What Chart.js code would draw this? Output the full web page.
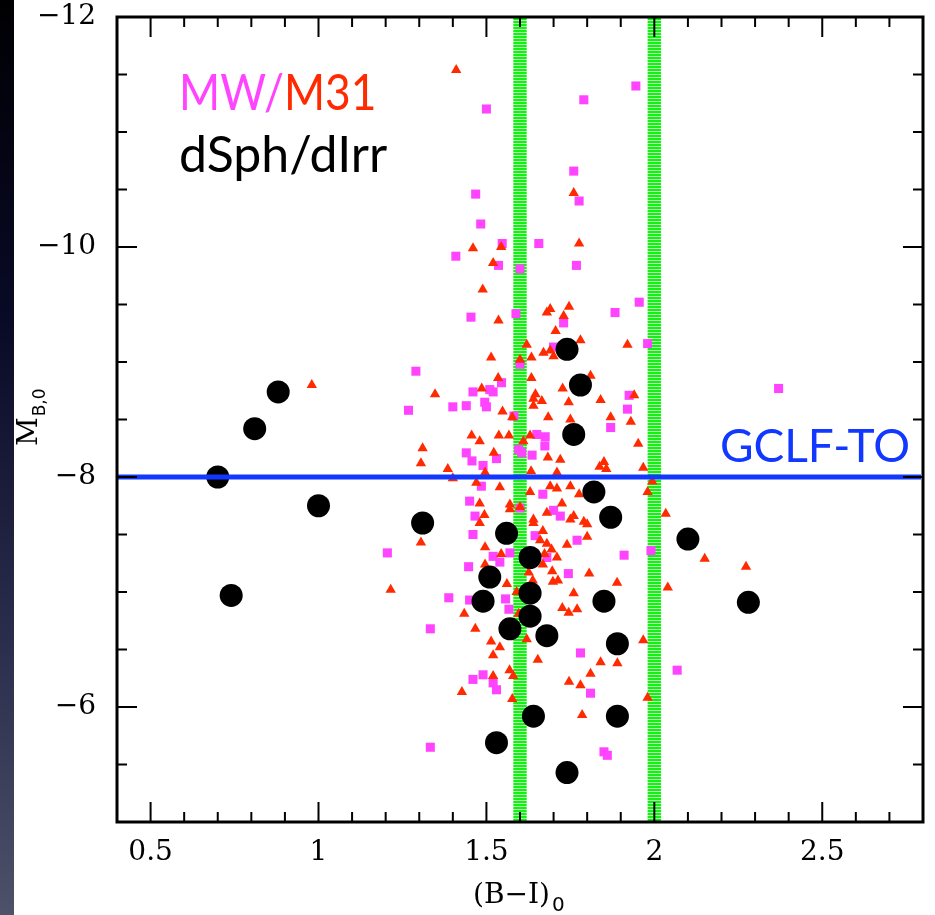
<!DOCTYPE html>
<html lang="en">
<head>
<meta charset="UTF-8">
<title>GC colour - magnitude</title>
<script src="https://cdn.jsdelivr.net/npm/chart.js"></script>
<style>
  html, body { margin: 0; padding: 0; background: #fff; }
  .strip { position: absolute; left: 0; top: 0; width: 14px; height: 915px;
    background: linear-gradient(to bottom, #000003 0%, #090a26 35%, #2a2d4c 70%, #4d5169 100%); }
  .wrap { position: absolute; left: 0; top: 0; width: 935px; height: 915px; }
</style>
</head>
<body>
<div class="strip"></div>
<div class="wrap"><canvas id="cmd" width="935" height="915"></canvas></div>
<script>
// dSph / dIrr clusters (black)
const dwarfBI = [0.70, 0.74, 0.81, 0.88, 1.00, 1.31, 1.56, 1.74, 1.78, 1.76, 1.82, 1.87, 1.63, 1.51,
  1.49, 1.63, 1.63, 1.57, 1.68, 1.85, 1.89, 1.64, 1.89, 1.53, 1.74, 2.10, 2.28];
const dwarfMB = [-8.00, -6.97, -8.42, -8.74, -7.75, -7.60, -7.51, -9.11, -8.80, -8.37, -7.87, -7.65, -7.30, -7.13,
  -6.92, -6.99, -6.79, -6.68, -6.62, -6.92, -6.55, -5.92, -5.92, -5.69, -5.43, -7.46, -6.91];

// MW clusters (magenta squares)
const mwBI = [1.50, 1.79, 1.945, 1.76, 1.776, 1.468, 1.483, 1.547, 1.656, 1.409, 1.536, 1.60, 1.768, 1.955,
  1.883, 1.454, 1.588, 1.73, 1.70, 1.98, 1.60, 1.29, 1.545, 1.46, 1.51, 1.52, 1.925, 1.40, 1.44, 1.495,
  1.50, 1.268, 1.92, 1.582, 1.87, 1.65, 1.675, 1.674, 1.596, 1.605, 1.44, 1.457, 1.53, 1.49, 1.636,
  1.485, 1.668, 1.45, 1.60, 1.70, 1.466, 1.72, 1.46, 1.645, 1.77, 1.205, 1.52, 1.54, 1.57, 1.68, 1.91,
  1.99, 1.447, 1.744, 1.388, 1.45, 1.557, 1.567, 1.333, 1.78, 1.49, 1.46, 1.52, 1.53, 2.068, 1.81,
  1.333, 1.85, 1.86, 2.37];
const mwMB = [-11.20, -11.28, -11.40, -10.66, -10.40, -10.46, -10.20, -10.03, -10.03, -9.92, -9.84, -9.81, -9.84, -9.52,
  -9.43, -9.39, -9.42, -9.34, -9.13, -9.16, -8.98, -8.92, -8.82, -8.74, -8.76, -8.74, -8.71, -8.61, -8.62, -8.65,
  -8.61, -8.58, -8.59, -8.53, -8.43, -8.37, -8.35, -8.27, -8.24, -8.21, -8.21, -8.14, -8.16, -8.10, -8.19,
  -7.92, -7.85, -7.79, -7.73, -7.71, -7.66, -7.66, -7.50, -7.49, -7.45, -7.34, -7.31, -7.26, -7.34, -7.30, -7.32,
  -7.36, -7.22, -7.16, -6.95, -6.93, -6.94, -6.85, -6.68, -6.47, -6.28, -6.24, -6.21, -6.15, -6.32, -6.12,
  -5.65, -5.61, -5.58, -8.77];

// M31 clusters (red triangles)
const m31BI = [1.41, 1.76, 1.544, 1.46, 1.776, 1.52, 1.489, 1.68, 1.69, 1.746, 1.73, 1.536, 1.706, 1.78,
  1.62, 1.69, 1.67, 1.70, 1.92, 1.514, 1.60, 1.634, 1.81, 1.535, 1.634, 1.727, 1.486, 1.347, 1.646, 1.64,
  1.665, 1.64, 1.94, 1.84, 1.745, 1.548, 1.577, 1.684, 1.87, 1.93, 1.75, 1.456, 1.48, 1.537, 1.567, 1.63,
  1.61, 1.31, 1.305, 1.952, 1.522, 1.683, 1.72, 1.385, 1.496, 1.633, 1.71, 1.837, 1.85, 1.857, 1.967,
  1.40, 1.47, 1.54, 1.63, 1.69, 1.71, 1.75, 1.776, 1.994, 1.98, 1.48, 1.57, 1.60, 1.57, 1.725, 1.68,
  1.494, 1.75, 1.76, 1.79, 1.80, 2.034, 1.48, 1.64, 1.64, 1.668, 1.305, 1.80, 1.74, 1.66, 1.496, 1.68,
  1.544, 1.673, 1.694, 1.71, 1.496, 1.668, 1.626, 1.696, 1.806, 1.698, 1.713, 1.638, 1.561, 1.889, 2.04,
  1.215, 1.59, 1.76, 1.434, 1.726, 1.745, 1.77, 1.596, 1.467, 1.514, 1.54, 1.62, 1.967, 1.52, 1.653,
  1.84, 1.89, 1.569, 1.58, 1.52, 1.81, 1.746, 1.78, 1.427, 1.577, 1.98, 1.785, 2.15, 2.273, 0.98];
const m31MB = [-11.54, -10.47, -10.00, -9.99, -10.03, -9.86, -9.63, -9.43, -9.46, -9.48, -9.40, -9.36, -9.27, -9.19,
  -9.15, -9.10, -9.08, -9.05, -9.15, -9.04, -9.02, -9.04, -8.88, -8.86, -8.86, -8.77, -8.77, -8.72, -8.72, -8.68,
  -8.66, -8.62, -8.71, -8.67, -8.65, -8.57, -8.52, -8.52, -8.52, -8.48, -8.50, -8.36, -8.31, -8.36, -8.36, -8.36,
  -8.31, -8.25, -8.12, -8.29, -8.21, -8.17, -8.15, -8.07, -8.04, -8.05, -8.04, -8.09, -8.13, -8.07, -8.08,
  -7.99, -7.95, -7.91, -7.87, -7.92, -7.90, -7.92, -7.85, -7.96, -7.87, -7.77, -7.76, -7.74, -7.72, -7.77, -7.69,
  -7.67, -7.63, -7.66, -7.61, -7.59, -7.68, -7.60, -7.63, -7.60, -7.53, -7.43, -7.48, -7.41, -7.45, -7.39, -7.42,
  -7.33, -7.33, -7.37, -7.30, -7.24, -7.24, -7.17, -7.18, -7.16, -7.09, -7.10, -7.10, -7.07, -7.08, -7.04,
  -7.02, -7.00, -6.99, -6.81, -6.86, -6.82, -6.85, -6.81, -6.68, -6.57, -6.52, -6.59, -6.58, -6.45, -6.41,
  -6.39, -6.38, -6.32, -6.27, -6.27, -6.29, -6.22, -6.19, -6.13, -6.07, -6.08, -5.93, -7.29, -7.22, -8.80];

const xTicks = [0.5, 1, 1.5, 2, 2.5];
const yTicks = [-12, -10, -8, -6];
const bandCenters = [1.6, 2.0];   // green colour cuts
const bandHalf = 0.02;
const gclfTO = -8;                 // turnover line

const pts = (xs, ys) => xs.map((v, i) => ({ x: v, y: ys[i] }));
const minus = v => String(v).replace('-', '\u2212');
const noPad = s => { s.paddingTop = 0; s.paddingBottom = 0; s.paddingLeft = 0; s.paddingRight = 0; };

const decor = {
  id: 'decor',
  beforeDatasetsDraw(chart) {
    const { ctx, chartArea: a, scales: { x } } = chart;
    const pc = document.createElement('canvas');
    pc.width = 1; pc.height = 3;
    const p = pc.getContext('2d');
    p.fillStyle = '#14f014'; p.fillRect(0, 0, 1, 2);
    p.fillStyle = '#b4ffb4'; p.fillRect(0, 2, 1, 1);
    ctx.save();
    ctx.fillStyle = ctx.createPattern(pc, 'repeat');
    bandCenters.forEach(c => {
      const l = x.getPixelForValue(c - bandHalf), r = x.getPixelForValue(c + bandHalf);
      ctx.fillRect(l, a.top, r - l, a.bottom - a.top);
    });
    ctx.restore();
  },
  afterDatasetsDraw(chart) {
    const { ctx, chartArea: a, scales: { x, y } } = chart;
    ctx.save();
    // GCLF turnover
    const yt = y.getPixelForValue(gclfTO);
    ctx.strokeStyle = '#1238ff';
    ctx.lineWidth = 5;
    ctx.beginPath(); ctx.moveTo(a.left, yt); ctx.lineTo(a.right - 2, yt); ctx.stroke();

    // frame + ticks
    ctx.strokeStyle = '#000';
    ctx.lineWidth = 3;
    ctx.strokeRect(a.left, a.top, a.right - a.left, a.bottom - a.top);
    ctx.lineWidth = 2;
    ctx.beginPath();
    for (let k = 5; k <= 27; k++) {
      const px = x.getPixelForValue(k / 10), len = k % 5 === 0 ? 20 : 10;
      ctx.moveTo(px, a.bottom); ctx.lineTo(px, a.bottom - len);
      ctx.moveTo(px, a.top); ctx.lineTo(px, a.top + len);
    }
    for (let k = -23; k <= -11; k++) {
      const py = y.getPixelForValue(k / 2), len = k % 4 === 0 ? 20 : 10;
      ctx.moveTo(a.left, py); ctx.lineTo(a.left + len, py);
      ctx.moveTo(a.right, py); ctx.lineTo(a.right - len, py);
    }
    ctx.stroke();

    // labels inside the plot
    ctx.textBaseline = 'alphabetic';
    ctx.textAlign = 'left';
    ctx.font = '50px Lato';
    ctx.save();
    ctx.translate(179, 110);
    ctx.scale(0.886, 1);
    ctx.fillStyle = '#ff44ff';
    ctx.fillText('MW/', 0, 0);
    const w = ctx.measureText('MW/').width;
    ctx.fillStyle = '#ff2a00';
    ctx.fillText('M31', w, 0);
    ctx.restore();
    ctx.fillStyle = '#000';
    ctx.fillText('dSph/dIrr', 179, 172);
    ctx.font = '46px Lato';
    ctx.fillStyle = '#1238ff';
    ctx.textAlign = 'right';
    ctx.fillText('GCLF-TO', 910, 462);

    // axis titles
    ctx.fillStyle = '#000';
    ctx.textAlign = 'left';
    ctx.font = '28px "DejaVu Serif"';
    const xt = '(B\u2212I)';
    const xw = ctx.measureText(xt).width;
    ctx.fillText(xt, 473, 903);
    ctx.font = '20px "DejaVu Sans"';
    ctx.fillText('0', 473 + xw + 2, 911);

    ctx.translate(37, 446);
    ctx.rotate(-Math.PI / 2);
    ctx.font = '28px "DejaVu Serif"';
    ctx.fillText('M', 0, 0);
    const mw = ctx.measureText('M').width;
    ctx.font = '17px "DejaVu Sans"';
    ctx.fillText('B,0', mw + 1, 8);
    ctx.restore();
  }
};

new Chart(document.getElementById('cmd'), {
  type: 'scatter',
  data: {
    datasets: [
      { label: 'dSph/dIrr', data: pts(dwarfBI, dwarfMB), order: 0,
        pointStyle: 'circle', pointRadius: 11.5, backgroundColor: '#000', borderWidth: 0 },
      { label: 'M31', data: pts(m31BI, m31MB), order: 1,
        pointStyle: 'triangle', pointRadius: 6, backgroundColor: '#ff2a00', borderWidth: 0 },
      { label: 'MW', data: pts(mwBI, mwMB), order: 2,
        pointStyle: 'rect', pointRadius: 6.4, backgroundColor: '#ff44ff', borderWidth: 0 }
    ]
  },
  options: {
    responsive: false,
    animation: false,
    events: [],
    layout: { padding: { left: 0, top: 17, right: 12, bottom: 0 } },
    plugins: { legend: { display: false }, tooltip: { enabled: false } },
    scales: {
      x: {
        type: 'linear', min: 0.4, max: 2.8,
        grid: { display: false }, border: { display: false },
        ticks: { color: '#000', font: { family: 'DejaVu Serif', size: 28 }, padding: 6,
          maxRotation: 0, autoSkip: false, callback: minus },
        afterBuildTicks: s => { s.ticks = xTicks.map(v => ({ value: v })); },
        afterFit: s => { s.height = 93; noPad(s); }
      },
      y: {
        type: 'linear', min: -12, max: -5, reverse: true,
        grid: { display: false }, border: { display: false },
        ticks: { color: '#000', font: { family: 'DejaVu Serif', size: 28 }, padding: 13,
          autoSkip: false, callback: minus },
        afterBuildTicks: s => { s.ticks = yTicks.map(v => ({ value: v })); },
        afterFit: s => { s.width = 117; noPad(s); }
      }
    }
  },
  plugins: [decor]
});
</script>
</body>
</html>
